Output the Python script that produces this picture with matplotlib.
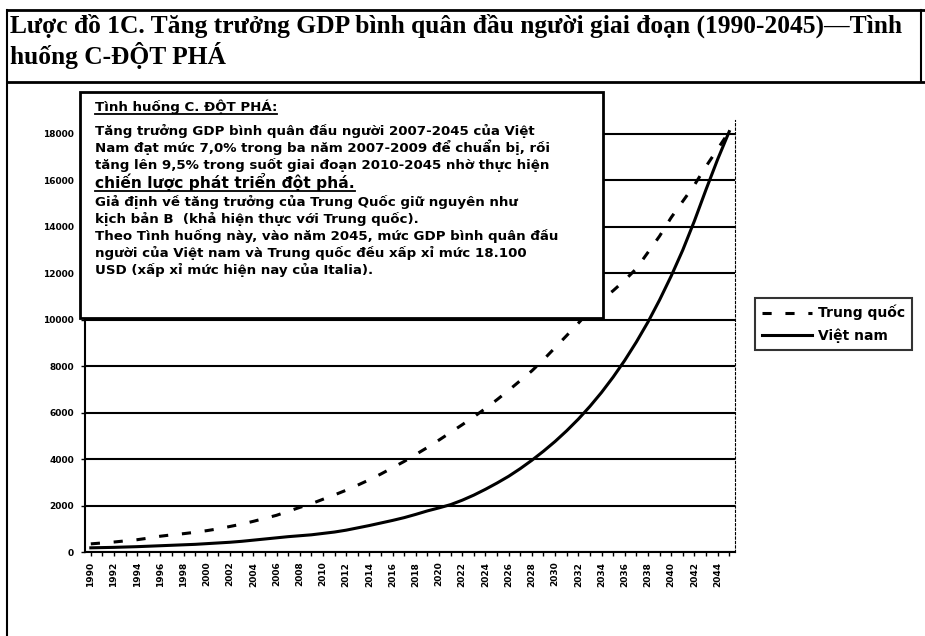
import numpy as np
import matplotlib
matplotlib.use("Agg")
import matplotlib.pyplot as plt
from matplotlib.lines import Line2D
from matplotlib.patches import Rectangle

# data (USD per person)
years = list(range(1990, 2046))
trung_quoc = [350, 390, 430, 480, 530, 600, 680, 740, 790, 850,
              920, 1000, 1100, 1200, 1320, 1450, 1580, 1750, 1920, 2080,
              2270, 2460, 2660, 2880, 3110, 3360, 3630, 3900, 4200, 4500,
              4820, 5150, 5480, 5820, 6180, 6560, 6960, 7380, 7800, 8280,
              8800, 9320, 9850, 10400, 10850, 11250, 11700, 12200, 12900, 13600,
              14400, 15100, 15800, 16600, 17350, 18100]
viet_nam = [180, 190, 200, 215, 230, 250, 270, 290, 310, 330,
            360, 390, 420, 460, 510, 560, 610, 660, 700, 740,
            800, 860, 940, 1040, 1140, 1250, 1360, 1480, 1620, 1770,
            1900, 2040, 2230, 2450, 2700, 2970, 3260, 3590, 3950, 4340,
            4760, 5220, 5720, 6270, 6870, 7530, 8250, 9040, 9900, 10850,
            11880, 13000, 14250, 15600, 16900, 18100]
y_ticks = list(range(0, 18001, 2000))
x_labels = list(range(1990, 2045, 2))

title = ("Lược đồ 1C. Tăng trưởng GDP bình quân đầu người giai đoạn (1990-2045)—Tình\n"
         "huống C-ĐỘT PHÁ")
box_head = "Tình huống C. ĐỘT PHÁ:"
box_lines = ["Tăng trưởng GDP bình quân đầu người 2007-2045 của Việt",
             "Nam đạt mức 7,0% trong ba năm 2007-2009 để chuẩn bị, rồi",
             "tăng lên 9,5% trong suốt giai đoạn 2010-2045 nhờ thực hiện"]
box_big = "chiến lược phát triển đột phá."
box_tail = ["Giả định về tăng trưởng của Trung Quốc giữ nguyên như",
            "kịch bản B  (khả hiện thực với Trung quốc).",
            "Theo Tình huống này, vào năm 2045, mức GDP bình quân đầu",
            "người của Việt nam và Trung quốc đều xấp xỉ mức 18.100",
            "USD (xấp xỉ mức hiện nay của Italia)."]

W, H = 925, 636
fig = plt.figure(figsize=(W / 100, H / 100), dpi=100)


def fx(px):
    return px / W


def fy(py):
    return 1 - py / H


def fline(x0, y0, x1, y1, lw=1.5):
    fig.add_artist(Line2D([fx(x0), fx(x1)], [fy(y0), fy(y1)], color="black",
                          lw=lw, transform=fig.transFigure))


# page frame
fline(7, 10, 925, 10, 2)
fline(7, 82, 925, 82, 2)
fline(7, 10, 7, 636, 1.5)
fline(921, 10, 921, 82, 1.5)

fig.text(fx(10), fy(14), title, ha="left", va="top", family="Liberation Serif",
         fontweight="bold", fontsize=18.4, linespacing=1.15)

ax = fig.add_axes([fx(85), fy(552), fx(735) - fx(85), fy(120) - fy(552)])
ax.plot(years, trung_quoc, color="black", lw=2.2, dashes=(3, 4.5), label="Trung quốc")
ax.plot(years, viet_nam, color="black", lw=2.2, label="Việt nam")

ax.set_xlim(1989.5, 2045.5)
ax.set_ylim(0, 18600)
ax.set_yticks(y_ticks)
ax.set_yticklabels([str(v) for v in y_ticks], fontsize=6.5, fontweight="bold")
ax.yaxis.grid(True, color="black", lw=1.5)
ax.set_axisbelow(True)
ax.set_xticks(x_labels)
ax.set_xticklabels([str(v) for v in x_labels], rotation=90, fontsize=6.5,
                   fontweight="bold")
ax.set_xticks(years, minor=True)
ax.tick_params(axis="x", which="both", length=3, width=1, direction="out", pad=4)
ax.tick_params(axis="y", length=3, width=1, pad=5)
ax.spines["top"].set_visible(False)
ax.spines["right"].set_linestyle((0, (2, 2)))
ax.spines["right"].set_linewidth(0.8)
ax.spines["left"].set_linewidth(1.5)
ax.spines["bottom"].set_linewidth(1.5)

leg = fig.legend(loc="upper left", bbox_to_anchor=(fx(755), fy(298)),
                 frameon=True, fancybox=False, edgecolor="black",
                 prop={"family": "DejaVu Sans", "weight": "bold", "size": 10},
                 handlelength=3.6, handletextpad=0.4, borderpad=0.5,
                 labelspacing=0.6, borderaxespad=0)
leg.get_frame().set_linewidth(1.5)

# note box over the upper left of the plot
fig.add_artist(Rectangle((fx(80), fy(318)), fx(603) - fx(80), fy(92) - fy(318),
                         transform=fig.transFigure, facecolor="white",
                         edgecolor="black", lw=2, zorder=5))
tkw = dict(family="DejaVu Sans", fontweight="bold", ha="left",
           va="baseline", zorder=6, fontsize=9.6)
underlined = []
underlined.append(fig.text(fx(95), fy(111), box_head, **tkw))
yb = 135
for s in box_lines:
    fig.text(fx(95), fy(yb), s, **tkw)
    yb += 17
underlined.append(fig.text(fx(95), fy(yb + 2), box_big,
                           **{**tkw, "fontsize": 11.2}))
yb += 20
for s in box_tail:
    fig.text(fx(95), fy(yb), s, **tkw)
    yb += 17

fig.canvas.draw()
r = fig.canvas.get_renderer()
for t in underlined:
    bb = t.get_window_extent(r)
    ypix = t.get_position()[1] - 3 / H
    fig.add_artist(Line2D([bb.x0 / W, bb.x1 / W], [ypix, ypix], color="black",
                          lw=1.3, transform=fig.transFigure, zorder=6))

fig.savefig("out.png", dpi=100, facecolor="white")
